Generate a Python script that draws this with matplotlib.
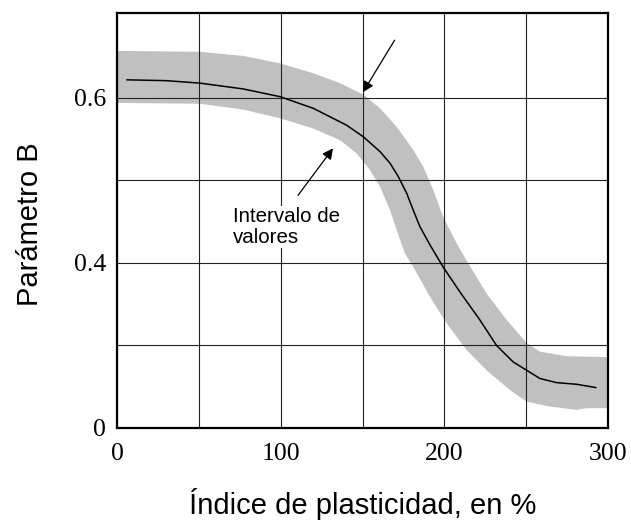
import matplotlib
matplotlib.use("Agg")
import matplotlib.pyplot as plt

# Central curve (Parámetro B vs Índice de plasticidad)
curve_x = [6, 30, 50.7, 77, 99.6, 119.9, 140.3, 150.5, 160.7, 166.8, 171.8, 177.0, 181.0,
           185.1, 191.2, 199.3, 209.5, 221.7, 231.9, 242.1, 250.3, 258.4, 268.6,
           280.8, 292.6]
curve_y = [0.622, 0.621, 0.618, 0.611, 0.6016, 0.5875, 0.567, 0.553, 0.535, 0.521, 0.505,
           0.4845, 0.464, 0.444, 0.422, 0.395, 0.365, 0.331, 0.300, 0.280, 0.270, 0.260,
           0.255, 0.253, 0.249]

# Range band (Intervalo de valores): upper and lower edges
upper_x = [0, 50.7, 77, 99.6, 119.9, 136.2, 150.5, 160.7, 170.9, 181.0, 187.1, 193.2,
           199.3, 207.5, 213.6, 225.8, 238.1, 250.3, 258.4, 274.7, 300]
upper_y = [0.657, 0.656, 0.651, 0.642, 0.630, 0.618, 0.604, 0.5875, 0.565, 0.537, 0.517,
           0.4885, 0.456, 0.424, 0.403, 0.363, 0.331, 0.303, 0.2925, 0.287, 0.286]
lower_x = [0, 50.7, 77, 99.6, 119.9, 136.2, 146.4, 154.5, 160.7, 166.8, 170.9, 175.9,
           181.0, 191.2, 201.4, 213.6, 225.8, 240.1, 250.3, 264.5, 280.8, 286.9, 300]
lower_y = [0.594, 0.593, 0.586, 0.5754, 0.563, 0.549, 0.533, 0.5127, 0.4925, 0.464, 0.440,
           0.4115, 0.3955, 0.359, 0.327, 0.2945, 0.270, 0.246, 0.232, 0.226, 0.222, 0.224,
           0.224]

x_grid = [0, 50, 100, 150, 200, 250, 300]
x_labels = ["0", "", "100", "", "200", "", "300"]
y_grid = [0.2, 0.3, 0.4, 0.5, 0.6]
y_labels = ["0", "", "0.4", "", "0.6"]

W, H = 631, 529
fig = plt.figure(figsize=(W / 100, H / 100), dpi=100)
ax = fig.add_axes([117 / W, 1 - 428 / H, (608 - 117) / W, (428 - 13) / H])

poly_x = upper_x + lower_x[::-1]
poly_y = upper_y + lower_y[::-1]
ax.fill(poly_x, poly_y, color="#c0c0c0", lw=0, zorder=1)
ax.plot(curve_x, curve_y, color="black", lw=1.1, zorder=3,
        solid_joinstyle="round", solid_capstyle="round")

ax.set_xlim(0, 300)
ax.set_ylim(0.2, 0.703)
ax.set_xticks(x_grid)
ax.set_xticklabels(x_labels)
ax.set_yticks(y_grid)
ax.set_yticklabels(y_labels)
ax.tick_params(length=0, labelsize=18.5)
ax.tick_params(axis="x", pad=11)
ax.tick_params(axis="y", pad=8)
for lab in ax.get_xticklabels() + ax.get_yticklabels():
    lab.set_family("Liberation Serif")
ax.grid(True, color="#222222", lw=0.8, zorder=2)
ax.set_axisbelow(False)
for s in ax.spines.values():
    s.set_linewidth(1.6)
    s.set_zorder(4)

arrow = dict(arrowstyle="-|>", color="black", lw=0.9, mutation_scale=16,
             shrinkA=0, shrinkB=0)
ax.annotate("", xy=(150.3, 0.607), xytext=(169.6, 0.670), arrowprops=arrow, zorder=5)
ax.annotate("", xy=(132, 0.539), xytext=(110.6, 0.482), arrowprops=arrow, zorder=5)
ax.text(70.9, 0.468, "Intervalo de\nvalores", family="Liberation Sans", fontsize=14.8,
        ha="left", va="top", linespacing=1.15, zorder=5,
        bbox=dict(facecolor="white", edgecolor="none", pad=0.5))

fig.text(363 / W, 1 - 504 / H, "Índice de plasticidad, en %", family="Liberation Sans",
         fontsize=21, ha="center", va="center")
fig.text(30 / W, 1 - 224 / H, "Parámetro B", family="Liberation Sans",
         fontsize=21, ha="center", va="center", rotation=90)

fig.savefig("out.png", dpi=100)
